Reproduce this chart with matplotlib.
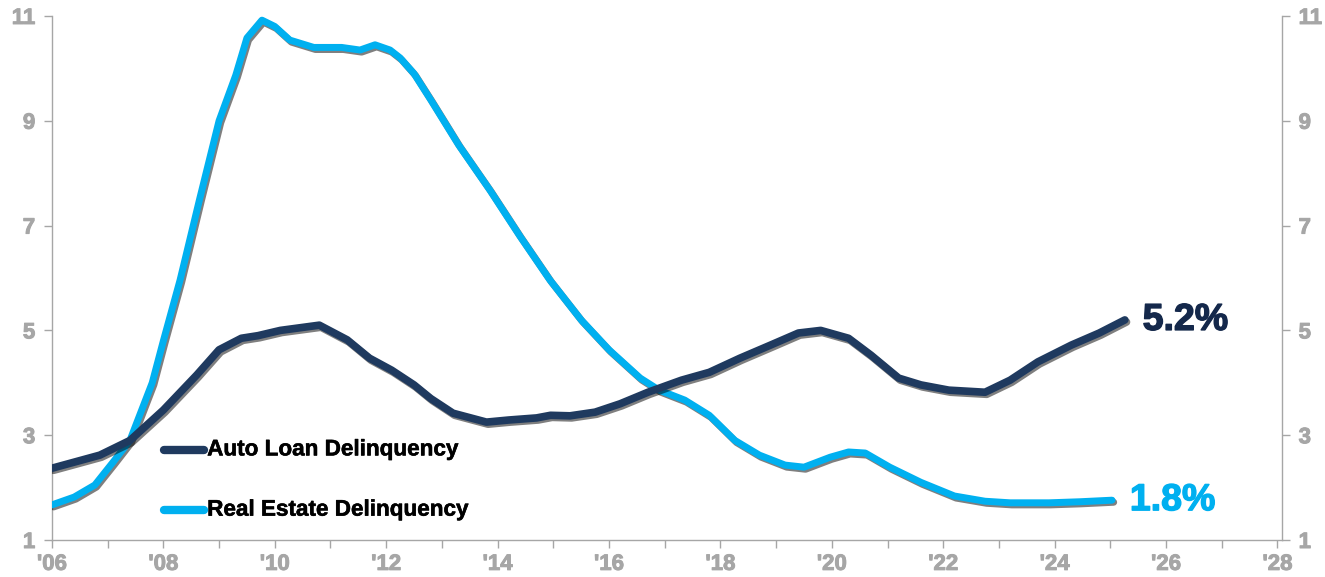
import matplotlib.pyplot as plt
import matplotlib.patheffects as pe
from matplotlib.ticker import MultipleLocator

plt.rcParams['font.family'] = ['Liberation Sans', 'DejaVu Sans']
plt.rcParams['font.weight'] = 'bold'

# auto loan delinquency (%)
auto_x = [2006.0, 2006.86, 2007.4, 2008.0, 2008.6, 2009.0, 2009.4, 2009.7, 2010.1, 2010.45,
          2010.8, 2011.3, 2011.7, 2012.1, 2012.5, 2012.8, 2013.2, 2013.8, 2014.2, 2014.7,
          2014.95, 2015.3, 2015.75, 2016.2, 2016.7, 2017.3, 2017.8, 2018.35, 2018.9, 2019.4,
          2019.8, 2020.3, 2020.7, 2021.2, 2021.6, 2022.1, 2022.75, 2023.2, 2023.7, 2024.3,
          2024.8, 2025.26]
auto_y = [2.37, 2.62, 2.9, 3.48, 4.15, 4.63, 4.85, 4.9, 5.0, 5.05,
          5.1, 4.82, 4.47, 4.24, 3.96, 3.7, 3.42, 3.25, 3.29, 3.33,
          3.38, 3.37, 3.44, 3.6, 3.82, 4.05, 4.2, 4.47, 4.72, 4.95,
          5.0, 4.85, 4.53, 4.09, 3.96, 3.86, 3.82, 4.05, 4.4, 4.72,
          4.95, 5.2]

# real estate delinquency (%)
re_x = [2006.0, 2006.4, 2006.77, 2007.1, 2007.4, 2007.8, 2008.0, 2008.3, 2008.65, 2009.0,
        2009.3, 2009.5, 2009.77, 2010.0, 2010.27, 2010.7, 2011.2, 2011.53, 2011.8, 2012.07,
        2012.25, 2012.5, 2012.8, 2013.3, 2013.86, 2014.4, 2014.94, 2015.5, 2016.0, 2016.56,
        2016.9, 2017.36, 2017.8, 2018.26, 2018.7, 2019.16, 2019.5, 2019.97, 2020.3, 2020.6,
        2021.04, 2021.6, 2022.2, 2022.75, 2023.2, 2023.9, 2024.45, 2025.03]
re_y = [1.67, 1.82, 2.05, 2.49, 2.9, 4.0, 4.8, 5.96, 7.5, 9.0,
        9.87, 10.58, 10.92, 10.8, 10.54, 10.4, 10.4, 10.35, 10.45, 10.35,
        10.2, 9.9, 9.4, 8.54, 7.68, 6.8, 5.96, 5.2, 4.63, 4.09,
        3.86, 3.67, 3.38, 2.9, 2.62, 2.43, 2.39, 2.58, 2.68, 2.66,
        2.39, 2.1, 1.84, 1.74, 1.71, 1.71, 1.73, 1.76]

xticks = list(range(2006, 2029, 2))
xlabels = ["'%02d" % (y % 100) for y in xticks]
yticks = [1, 3, 5, 7, 9, 11]

navy = '#1f3a5f'
blue = '#00b0f0'
grey = '#a6a6a6'


def heavy(color, w=1.0):
    return [pe.withStroke(linewidth=w, foreground=color)]


fig = plt.figure(figsize=(13.25, 5.77), dpi=100)
ax = fig.add_axes([0.0392, 0.0641, 0.9283, 0.9082])

shadow = [pe.SimpleLineShadow(offset=(1.2, -1.5), shadow_color='k', alpha=0.5), pe.Normal()]
ax.plot(re_x, re_y, color=blue, lw=5, solid_capstyle='round', path_effects=shadow, zorder=3)
ax.plot(auto_x, auto_y, color=navy, lw=5.5, solid_capstyle='round', path_effects=shadow, zorder=4)

ax.text(auto_x[-1] + 0.32, auto_y[-1], '5.2%', color='#14284b', fontsize=27,
        fontweight='bold', va='center', ha='left', path_effects=heavy('#14284b', 1.0))
ax.text(re_x[-1] + 0.32, re_y[-1], '1.8%', color=blue, fontsize=27,
        fontweight='bold', va='center', ha='left', path_effects=heavy(blue, 1.0))

# legend
for yy, col, lab in [(0.172, navy, 'Auto Loan Delinquency'), (0.057, blue, 'Real Estate Delinquency')]:
    ax.plot([0.091, 0.124], [yy, yy], transform=ax.transAxes, color=col, lw=6,
            solid_capstyle='round', zorder=5)
    ax.text(0.1262, yy, lab, transform=ax.transAxes, fontsize=16.2, fontweight='bold',
            va='center', ha='left', color='black', path_effects=heavy('black', 0.4))

ax.set_xlim(2006, 2028.08)
ax.set_ylim(1, 11)
ax.set_xticks(xticks)
ax.set_xticklabels(xlabels, fontsize=16, fontweight='bold', color=grey)
ax.xaxis.set_minor_locator(MultipleLocator(1))
ax.set_yticks(yticks)
ax.set_yticklabels([str(v) for v in yticks], fontsize=16, fontweight='bold', color=grey)

ax.spines['top'].set_visible(False)
for s in ['left', 'right', 'bottom']:
    ax.spines[s].set_color(grey)
    ax.spines[s].set_linewidth(1)

ax.tick_params(axis='both', which='both', color=grey, length=6, width=1, direction='out')
ax.tick_params(axis='y', right=True, labelright=True, pad=6)
ax.tick_params(axis='x', which='major', pad=4)
for t in ax.yaxis.get_major_ticks():
    t.label2.set_fontweight('bold')
    t.label2.set_fontsize(16)
    t.label2.set_color(grey)
for lbl in ax.get_xticklabels() + ax.get_yticklabels():
    lbl.set_path_effects(heavy(grey, 0.7))
for t in ax.yaxis.get_major_ticks():
    t.label2.set_path_effects(heavy(grey, 0.7))

fig.savefig('out.png', dpi=100)
